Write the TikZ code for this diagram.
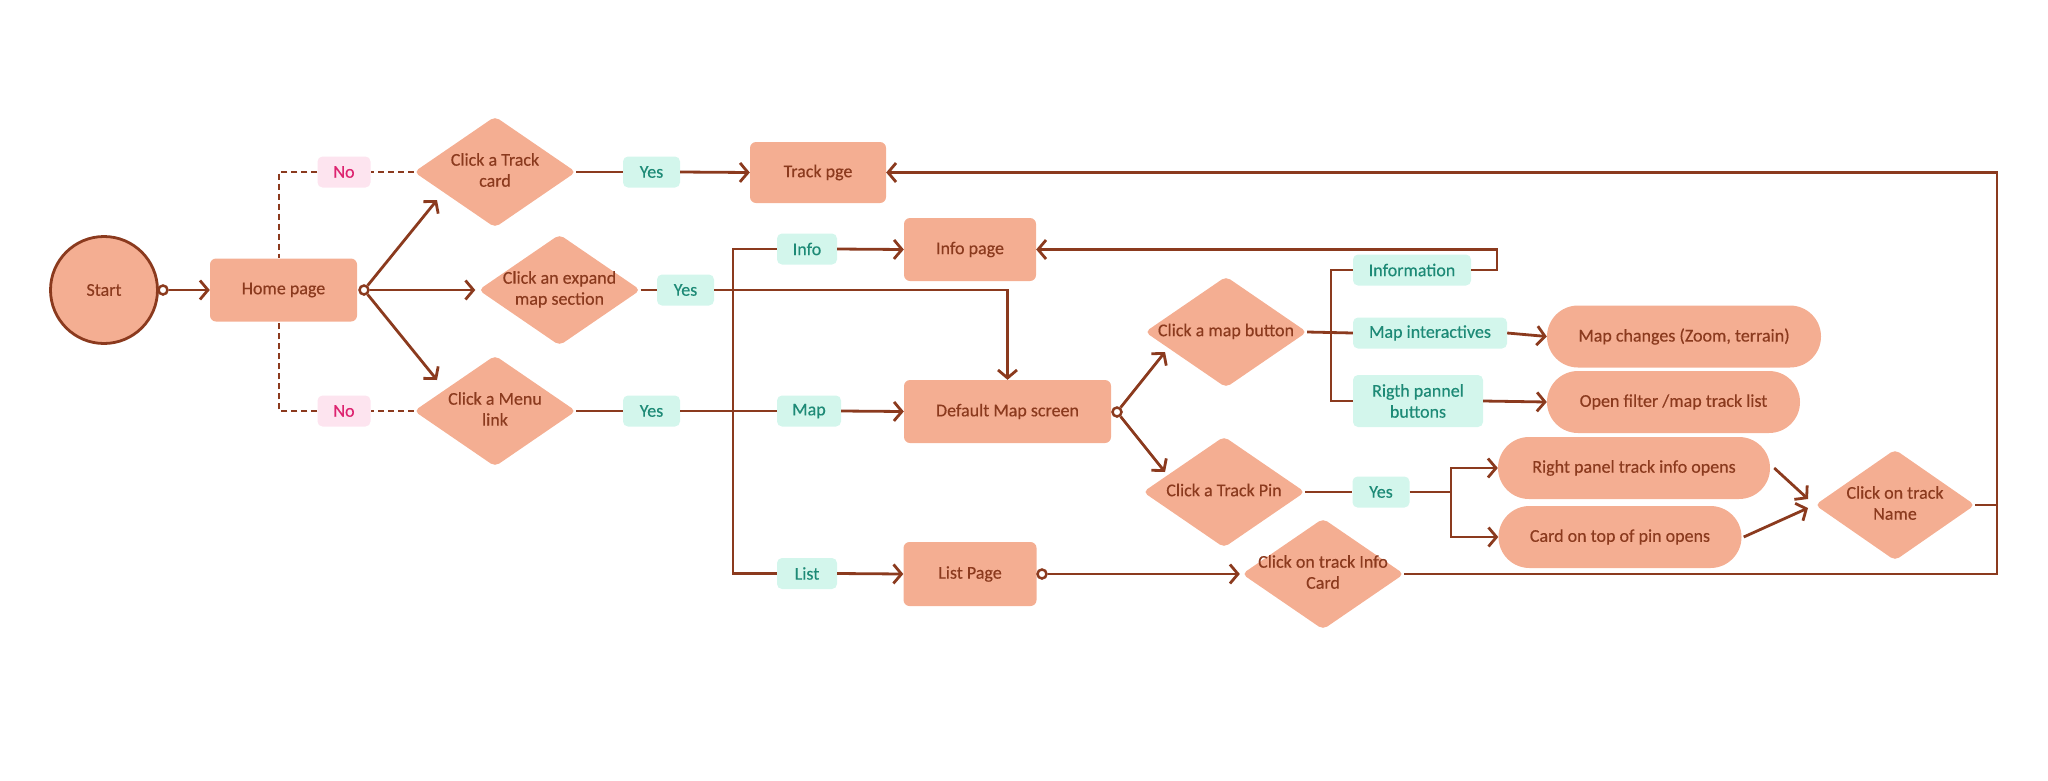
\documentclass[tikz,border=0pt]{standalone}
\usepackage{fontspec}
\setmainfont{Carlito}[FakeBold=0.35]
\usetikzlibrary{shapes.geometric,arrows.meta}
\definecolor{salmon}{HTML}{F4AE92}
\definecolor{brn}{HTML}{8B3A1E}
\definecolor{tealbg}{HTML}{D3F6EC}
\definecolor{tealtx}{HTML}{1D8A76}
\definecolor{pinkbg}{HTML}{FDE4EF}
\definecolor{pinktx}{HTML}{DD2470}
\newcommand\dt[1]{\makebox[0pt][c]{\begin{tabular}{@{}c@{}}#1\end{tabular}}}
\begin{document}
\begin{tikzpicture}[x=1pt,y=-1pt,font=\fontsize{18}{21}\selectfont,
 box/.style={rectangle,rounded corners=6pt,fill=salmon,text=brn,inner sep=0pt},
 dia/.style={diamond,fill=salmon,text=brn,rounded corners=5pt,inner sep=0pt,minimum width=162pt,minimum height=111pt},
 pill/.style={rectangle,rounded corners=31pt,fill=salmon,text=brn,minimum height=62pt,inner sep=0pt},
 yes/.style={rectangle,rounded corners=5pt,fill=tealbg,text=tealtx,minimum height=31pt,inner sep=0pt,align=center},
 no/.style={rectangle,rounded corners=5pt,fill=pinkbg,text=pinktx,minimum height=31pt,minimum width=53pt,inner sep=0pt},
 dot/.style={circle,draw=brn,fill=white,line width=2.5pt,minimum size=9pt,inner sep=0pt},
 ln/.style={draw=brn,line width=2.8pt},
 arr/.style={ln,-{Straight Barb[length=8pt,width=19pt]}},
 dsh/.style={ln,dash pattern=on 6pt off 4pt}]
\useasboundingbox (0,0) rectangle (2048,780);

% nodes
\node[circle,fill=salmon,draw=brn,line width=2.8pt,minimum size=107pt,inner sep=0pt,text=brn] (start) at (104,290) {Start};
\node[box,minimum width=147pt,minimum height=63pt] (home) at (283.5,290) {Home page};
\node[dia] (d1) at (495,172) {\dt{Click a Track\\card}};
\node[dia] (d2) at (559.5,290) {\dt{Click an expand\\map section}};
\node[dia] (d3) at (495,411) {\dt{Click a Menu\\link}};
\node[no] (no1) at (344,172) {No};
\node[no] (no3) at (344,411) {No};
\node[yes,minimum width=57pt] (y1) at (651.5,172) {Yes};
\node[yes,minimum width=57pt] (y2) at (685.5,290) {Yes};
\node[yes,minimum width=57pt] (y3) at (651.5,411) {Yes};
\node[box,minimum width=136pt,minimum height=61pt] (track) at (818,172.5) {Track pge};
\node[yes,minimum width=60pt] (info) at (807,249) {Info};
\node[yes,minimum width=64pt] (map) at (809,411) {Map};
\node[yes,minimum width=60pt] (list) at (807,573.5) {List};
\node[box,minimum width=132pt,minimum height=63pt] (ip) at (970,249.5) {Info page};
\node[box,minimum width=207pt,minimum height=63pt] (dm) at (1007.5,411.5) {Default Map screen};
\node[box,minimum width=133pt,minimum height=64pt] (lp) at (970,574) {List Page};
\node[dia] (ic) at (1323,574) {\dt{Click on track Info\\Card}};
\node[dia] (mb) at (1226,332) {\dt{Click a map button}};
\node[dia] (tp) at (1224,492) {\dt{Click a Track Pin}};
\node[yes,minimum width=118pt] (inf) at (1412,270) {Information};
\node[yes,minimum width=154pt] (mi) at (1430,333) {Map interactives};
\node[yes,minimum width=130pt,minimum height=52pt] (rpb) at (1418,401) {Rigth pannel\\buttons};
\node[yes,minimum width=57pt] (y4) at (1381,492) {Yes};
\node[pill,minimum width=274pt] (mc) at (1684,336.5) {Map changes (Zoom, terrain)};
\node[pill,minimum width=253pt] (of) at (1673.5,402) {Open filter /map track list};
\node[pill,minimum width=272pt] (rp) at (1634,468) {Right panel track info opens};
\node[pill,minimum width=243pt] (cp) at (1620,537) {Card on top of pin opens};
\node[dia,minimum width=160pt] (nm) at (1895,505) {\dt{Click on track\\Name}};

% connector dots
\node[dot] (sc) at (163,290) {};
\node[dot] (hc) at (364,290) {};
\node[dot] (dc) at (1117,412) {};
\node[dot] (lc) at (1042,574) {};

% helper coordinates
\coordinate (a1) at (437,200);
\coordinate (a3) at (437,380);
\coordinate (tk) at (733,0);
\coordinate (t2) at (1331,0);
\coordinate (t3) at (1497,0);
\coordinate (t4) at (1451,0);
\coordinate (rt) at (1997,172.5);
\coordinate (b1) at (1165,352);
\coordinate (b2) at (1165,472);
\coordinate (n1) at (1808,499);
\coordinate (n2) at (1808,508);

% connectors
\draw[arr] (sc) -- (home.west);
\draw[arr] (hc) -- (a1);
\draw[arr] (hc) -- ([xshift=-3pt]d2.west);
\draw[arr] (hc) -- (a3);
\draw[dsh] (d1.west) -- (no1.east);
\draw[dsh] (no1.west) -| ([xshift=-4.5pt]home.north);
\draw[dsh] (d3.west) -- (no3.east);
\draw[dsh] (no3.west) -| ([xshift=-4.5pt]home.south);
\draw[ln] (d1.east) -- (y1.west);
\draw[arr] (y1.east) -- (track.west);
\draw[ln] (d2.east) -- (y2.west);
\draw[arr] (y2.east) -| (dm.north);
\draw[ln] (d3.east) -- (y3.west);
\draw[ln] (y3.east) -- (map.west);
\draw[ln] (info.west) -| (tk |- list.west) -- (list.west);
\draw[arr] (info.east) -- (ip.west);
\draw[arr] (map.east) -- (dm.west);
\draw[arr] (list.east) -- (lp.west);
\draw[arr] (lc) -- ([xshift=-2pt]ic.west);
\draw[arr] (ic.east) -| (rt) -- (track.east);
\draw[ln] (nm.east) -- (nm.east -| rt);
\draw[arr] (dc) -- (b1);
\draw[arr] (dc) -- (b2);
\draw[ln] (mb.east) -- (mi.west);
\draw[ln] (inf.west) -| (t2 |- rpb.west) -- (rpb.west);
\draw[arr] (inf.east) -| (t3 |- ip.east) -- (ip.east);
\draw[arr] (mi.east) -- (mc.west);
\draw[arr] (rpb.east) -- (of.west);
\draw[ln] (tp.east) -- (y4.west);
\draw[arr] (y4.east) -- (y4.east -| t4) |- (rp.west);
\draw[arr] (y4.east -| t4) |- (cp.west);
\draw[arr] ([xshift=4pt]rp.east) -- (n1);
\draw[arr] ([xshift=2pt]cp.east) -- (n2);
\end{tikzpicture}
\end{document}
